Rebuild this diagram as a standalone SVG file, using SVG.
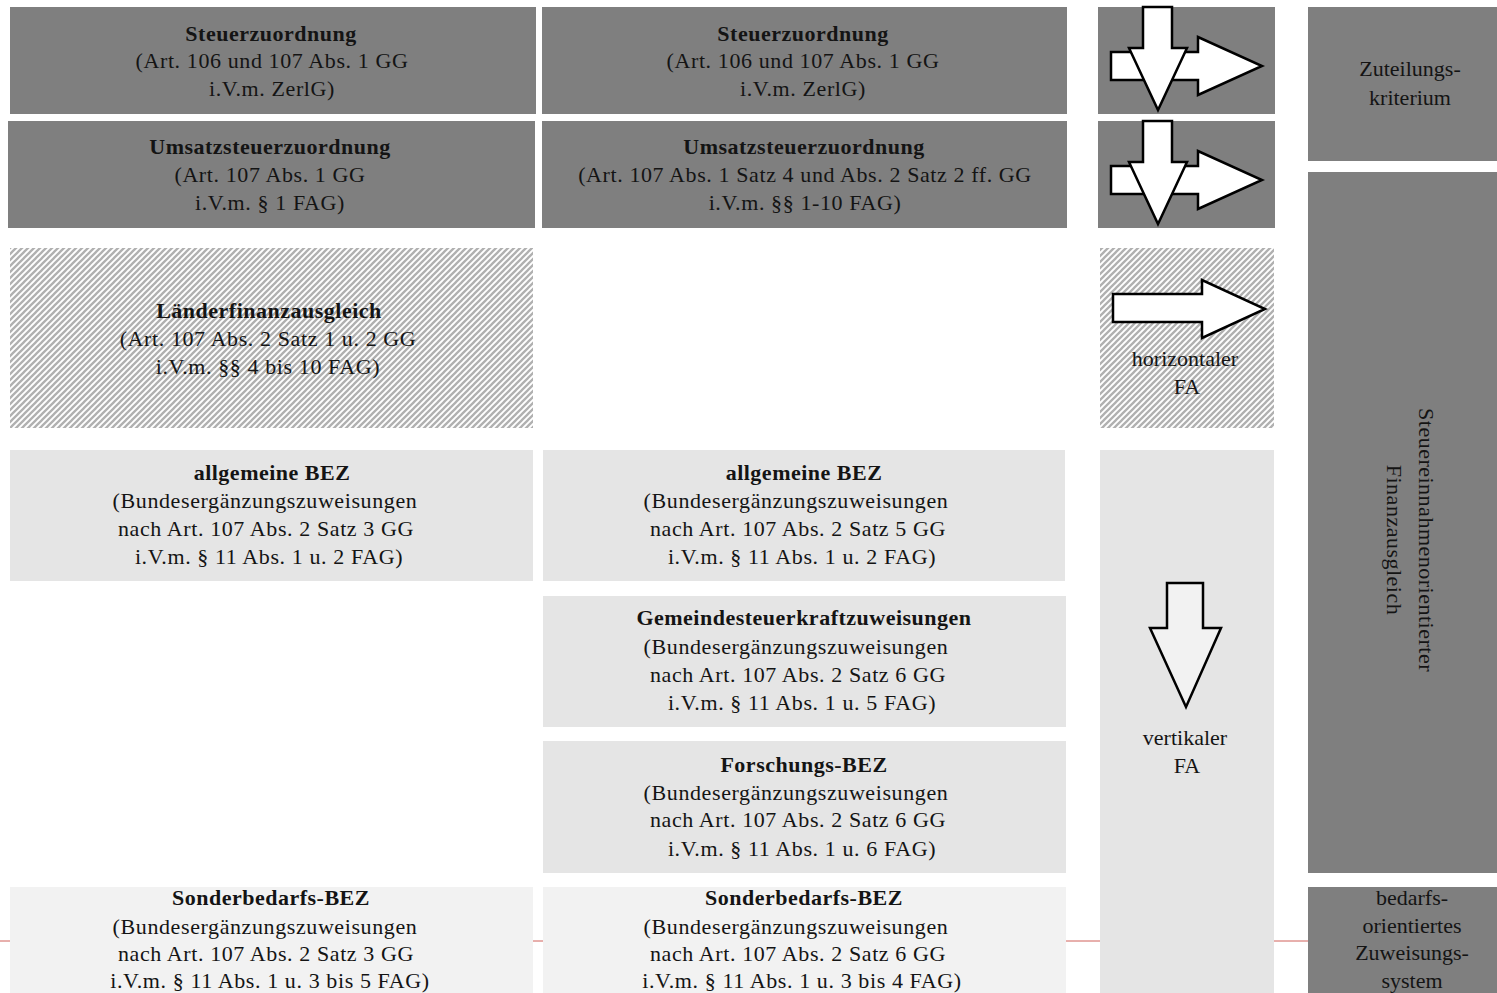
<svg xmlns="http://www.w3.org/2000/svg" width="1497" height="993" viewBox="0 0 1497 993">
<style>
  .dark { fill: #7f7f7f; }
  .light { fill: #e5e5e5; }
  .pale { fill: #f2f2f2; }
  .hatch { fill: url(#hatch); }
  text { font-family: "Liberation Serif", "Times New Roman", serif; font-size: 22px; fill: #141414; text-anchor: middle; }
  .r { letter-spacing: 0.6px; }
  .b { font-weight: bold; letter-spacing: 0.5px; }
  .arrow { fill: #ffffff; stroke: #000000; stroke-width: 2.5; stroke-linejoin: miter; }
  .arrow2 { fill: #f2f2f2; stroke: #000000; stroke-width: 2.5; stroke-linejoin: miter; }
</style>
<defs>
  <pattern id="hatch" patternUnits="userSpaceOnUse" width="6" height="6">
    <rect width="6" height="6" fill="#ffffff"/>
    <path d="M-1,1 L1,-1 M0,6 L6,0 M5,7 L7,5" stroke="#b0b0b0" stroke-width="2.3"/>
  </pattern>
</defs>
<rect width="1497" height="993" fill="#ffffff"/>
<line x1="0" y1="941" x2="1497" y2="941" stroke="#d0605a" stroke-width="1"/>

<g id="steuer-links">
  <rect class="dark" x="10" y="7" width="526" height="107"/>
  <text class="b" x="271" y="41">Steuerzuordnung</text>
  <text class="r" x="272" y="68">(Art. 106 und 107 Abs. 1 GG</text>
  <text class="r" x="272" y="96">i.V.m. ZerlG)</text>
</g>
<g id="steuer-mitte">
  <rect class="dark" x="542" y="7" width="525" height="107"/>
  <text class="b" x="803" y="41">Steuerzuordnung</text>
  <text class="r" x="803" y="68">(Art. 106 und 107 Abs. 1 GG</text>
  <text class="r" x="803" y="96">i.V.m. ZerlG)</text>
</g>
<g id="pfeile-1">
  <rect class="dark" x="1098" y="7" width="177" height="107"/>
</g>
<g id="zuteilung">
  <rect class="dark" x="1308" y="7" width="189" height="154"/>
  <text x="1410" y="76">Zuteilungs-</text>
  <text x="1410" y="105">kriterium</text>
</g>

<g id="ust-links">
  <rect class="dark" x="8" y="121" width="527" height="107"/>
  <text class="b" x="270" y="154">Umsatzsteuerzuordnung</text>
  <text class="r" x="270" y="182">(Art. 107 Abs. 1 GG</text>
  <text class="r" x="270" y="210">i.V.m. § 1 FAG)</text>
</g>
<g id="ust-mitte">
  <rect class="dark" x="542" y="121" width="525" height="107"/>
  <text class="b" x="804" y="154">Umsatzsteuerzuordnung</text>
  <text class="r" x="805" y="182">(Art. 107 Abs. 1 Satz 4 und Abs. 2 Satz 2 ff. GG</text>
  <text class="r" x="805" y="210">i.V.m. §§ 1-10 FAG)</text>
</g>
<g id="pfeile-2">
  <rect class="dark" x="1098" y="121" width="177" height="107"/>
</g>
<g id="steuereinnahmen">
  <rect class="dark" x="1308" y="172" width="189" height="701"/>
  <text transform="translate(1419,540) rotate(90)" style="letter-spacing:0.5px">Steuereinnahmenorientierter</text>
  <text transform="translate(1387,540) rotate(90)" style="letter-spacing:0.5px">Finanzausgleich</text>
</g>

<g id="lfa">
  <rect class="hatch" x="10" y="248" width="523" height="180"/>
  <text class="b" x="269" y="318">Länderfinanzausgleich</text>
  <text class="r" x="268" y="346">(Art. 107 Abs. 2 Satz 1 u. 2 GG</text>
  <text class="r" x="268" y="374">i.V.m. §§ 4 bis 10 FAG)</text>
</g>
<g id="horizontaler-fa">
  <rect class="hatch" x="1100" y="248" width="174" height="180"/>
  <text x="1185" y="366">horizontaler</text>
  <text x="1187" y="394">FA</text>
</g>

<g id="bez-links">
  <rect class="light" x="10" y="450" width="523" height="131"/>
  <text class="b" x="272" y="480">allgemeine BEZ</text>
  <text class="r" x="265" y="508">(Bundesergänzungszuweisungen</text>
  <text class="r" x="266" y="536">nach Art. 107 Abs. 2 Satz 3 GG</text>
  <text class="r" x="269" y="564">i.V.m. § 11 Abs. 1 u. 2 FAG)</text>
</g>
<g id="bez-mitte">
  <rect class="light" x="543" y="450" width="522" height="131"/>
  <text class="b" x="804" y="480">allgemeine BEZ</text>
  <text class="r" x="796" y="508">(Bundesergänzungszuweisungen</text>
  <text class="r" x="798" y="536">nach Art. 107 Abs. 2 Satz 5 GG</text>
  <text class="r" x="802" y="564">i.V.m. § 11 Abs. 1 u. 2 FAG)</text>
</g>
<g id="vertikaler-fa">
  <rect class="light" x="1100" y="450" width="174" height="543"/>
  <text x="1185" y="745">vertikaler</text>
  <text x="1187" y="773">FA</text>
</g>

<g id="gemeindesteuerkraft">
  <rect class="light" x="543" y="596" width="523" height="131"/>
  <text class="b" x="804" y="625">Gemeindesteuerkraftzuweisungen</text>
  <text class="r" x="796" y="654">(Bundesergänzungszuweisungen</text>
  <text class="r" x="798" y="682">nach Art. 107 Abs. 2 Satz 6 GG</text>
  <text class="r" x="802" y="710">i.V.m. § 11 Abs. 1 u. 5 FAG)</text>
</g>
<g id="forschungs-bez">
  <rect class="light" x="543" y="741" width="523" height="132"/>
  <text class="b" x="804" y="772">Forschungs-BEZ</text>
  <text class="r" x="796" y="800">(Bundesergänzungszuweisungen</text>
  <text class="r" x="798" y="827">nach Art. 107 Abs. 2 Satz 6 GG</text>
  <text class="r" x="802" y="856">i.V.m. § 11 Abs. 1 u. 6 FAG)</text>
</g>

<g id="sonder-links">
  <rect class="pale" x="10" y="887" width="523" height="106"/>
  <text class="b" x="271" y="905">Sonderbedarfs-BEZ</text>
  <text class="r" x="265" y="934">(Bundesergänzungszuweisungen</text>
  <text class="r" x="266" y="961">nach Art. 107 Abs. 2 Satz 3 GG</text>
  <text class="r" x="270" y="988">i.V.m. § 11 Abs. 1 u. 3 bis 5 FAG)</text>
</g>
<g id="sonder-mitte">
  <rect class="pale" x="543" y="887" width="523" height="106"/>
  <text class="b" x="804" y="905">Sonderbedarfs-BEZ</text>
  <text class="r" x="796" y="934">(Bundesergänzungszuweisungen</text>
  <text class="r" x="798" y="961">nach Art. 107 Abs. 2 Satz 6 GG</text>
  <text class="r" x="802" y="988">i.V.m. § 11 Abs. 1 u. 3 bis 4 FAG)</text>
</g>
<g id="bedarfsorientiert">
  <rect class="dark" x="1308" y="887" width="189" height="106"/>
  <text x="1412" y="905">bedarfs-</text>
  <text x="1412" y="933">orientiertes</text>
  <text x="1412" y="960">Zuweisungs-</text>
  <text x="1412" y="988">system</text>
</g>

<g id="connectors">
  <polygon class="arrow" points="1111,52 1198,52 1198,37 1262,66 1198,95 1198,80 1111,80"/>
  <polygon class="arrow" points="1143,7 1172,7 1172,48 1187,48 1158,110 1129,48 1143,48"/>
  <polygon class="arrow" points="1111,166 1198,166 1198,151 1262,180 1198,209 1198,194 1111,194"/>
  <polygon class="arrow" points="1143,121 1172,121 1172,162 1187,162 1158,224 1129,162 1143,162"/>
  <polygon class="arrow" points="1113,294 1202,294 1202,280 1265,309 1202,338 1202,322 1113,322"/>
  <polygon class="arrow2" points="1167,583 1203,583 1203,628 1221,628 1186,707 1150,628 1167,628"/>
</g>
</svg>
